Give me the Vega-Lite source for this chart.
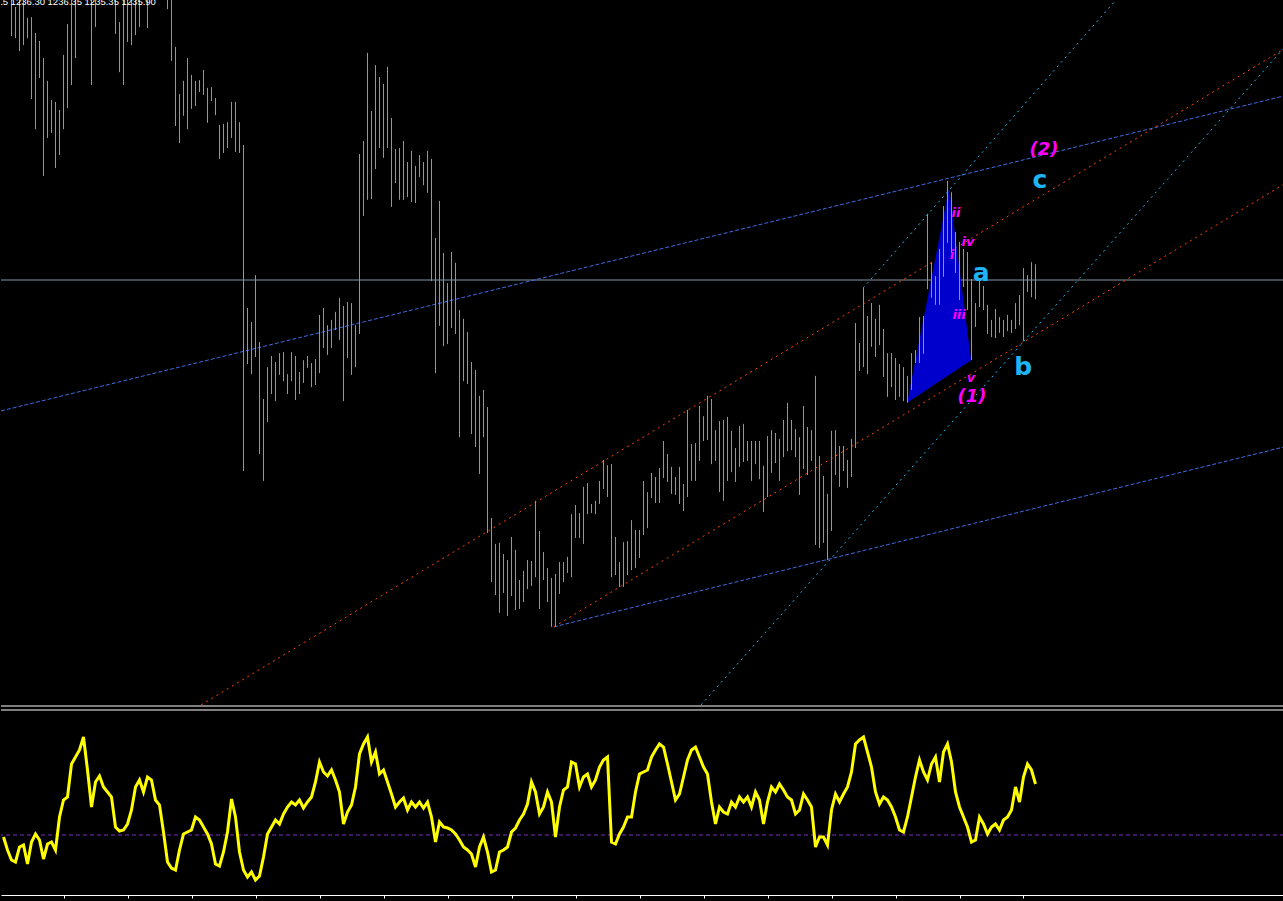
{
"$schema":"https://vega.github.io/schema/vega-lite/v6.json",
"background":"#000000",
"padding":0,
"spacing":2,
"config":{"view":{"stroke":null},"font":"Liberation Sans"},
"datasets":{
"bars":[
{"i":0,"high":1245.2,"low":1244.3,"osc":29},
{"i":1,"high":1245.0,"low":1244.1,"osc":22.5},
{"i":2,"high":1244.1,"low":1242.87,"osc":17.5},
{"i":3,"high":1243.7,"low":1242.81,"osc":16.5},
{"i":4,"high":1244.2,"low":1242.44,"osc":24},
{"i":5,"high":1244.1,"low":1242.61,"osc":25},
{"i":6,"high":1243.39,"low":1242.81,"osc":15.5},
{"i":7,"high":1243.41,"low":1241.07,"osc":26.5},
{"i":8,"high":1242.96,"low":1240.21,"osc":30.5},
{"i":9,"high":1242.73,"low":1241.67,"osc":27.5},
{"i":10,"high":1242.24,"low":1238.87,"osc":18},
{"i":11,"high":1241.59,"low":1239.96,"osc":25.5},
{"i":12,"high":1241.04,"low":1240.1,"osc":26.5},
{"i":13,"high":1240.99,"low":1239.1,"osc":22.5},
{"i":14,"high":1240.76,"low":1239.47,"osc":39},
{"i":15,"high":1242.33,"low":1240.21,"osc":47.5},
{"i":16,"high":1243.21,"low":1240.81,"osc":49},
{"i":17,"high":1244.3,"low":1241.47,"osc":65.5},
{"i":18,"high":1244.5,"low":1242.24,"osc":69},
{"i":19,"high":1245.0,"low":1244.0,"osc":72.5},
{"i":20,"high":1245.3,"low":1244.2,"osc":79},
{"i":21,"high":1245.1,"low":1244.1,"osc":62.5},
{"i":22,"high":1244.6,"low":1241.47,"osc":44},
{"i":23,"high":1244.8,"low":1243.13,"osc":56.5},
{"i":24,"high":1245.4,"low":1244.3,"osc":59.5},
{"i":25,"high":1245.6,"low":1244.5,"osc":54},
{"i":26,"high":1245.5,"low":1244.4,"osc":51.5},
{"i":27,"high":1245.2,"low":1244.1,"osc":49},
{"i":28,"high":1244.9,"low":1242.93,"osc":34},
{"i":29,"high":1243.27,"low":1241.84,"osc":32},
{"i":30,"high":1244.4,"low":1241.47,"osc":32.5},
{"i":31,"high":1244.8,"low":1242.7,"osc":35.5},
{"i":32,"high":1244.9,"low":1242.61,"osc":42.5},
{"i":33,"high":1245.0,"low":1242.9,"osc":54},
{"i":34,"high":1244.9,"low":1243.13,"osc":57.5},
{"i":35,"high":1245.3,"low":1244.2,"osc":51.5},
{"i":36,"high":1244.7,"low":1243.1,"osc":59},
{"i":37,"high":1245.2,"low":1244.3,"osc":57.5},
{"i":38,"high":1245.5,"low":1244.4,"osc":47.5},
{"i":39,"high":1245.4,"low":1244.2,"osc":45},
{"i":40,"high":1245.0,"low":1244.1,"osc":31.5},
{"i":41,"high":1244.8,"low":1243.64,"osc":16.5},
{"i":42,"high":1244.3,"low":1242.16,"osc":13.5},
{"i":43,"high":1242.56,"low":1240.3,"osc":12.5},
{"i":44,"high":1241.21,"low":1239.81,"osc":22.5},
{"i":45,"high":1241.59,"low":1240.59,"osc":30.5},
{"i":46,"high":1242.24,"low":1240.21,"osc":31.5},
{"i":47,"high":1241.76,"low":1240.79,"osc":32.5},
{"i":48,"high":1241.59,"low":1240.87,"osc":39},
{"i":49,"high":1241.61,"low":1241.27,"osc":37.5},
{"i":50,"high":1241.9,"low":1241.19,"osc":34},
{"i":51,"high":1241.39,"low":1240.39,"osc":30.5},
{"i":52,"high":1241.41,"low":1241.01,"osc":25.5},
{"i":53,"high":1241.1,"low":1240.61,"osc":15.5},
{"i":54,"high":1240.33,"low":1239.36,"osc":14.5},
{"i":55,"high":1240.36,"low":1239.53,"osc":21.5},
{"i":56,"high":1240.41,"low":1239.67,"osc":31.5},
{"i":57,"high":1240.99,"low":1239.96,"osc":48},
{"i":58,"high":1240.99,"low":1239.56,"osc":39},
{"i":59,"high":1240.41,"low":1239.53,"osc":21.5},
{"i":60,"high":1239.76,"low":1230.44,"osc":12.5},
{"i":61,"high":1235.1,"low":1233.5,"osc":9},
{"i":62,"high":1234.7,"low":1233.21,"osc":11.5},
{"i":63,"high":1236.04,"low":1233.7,"osc":7.5},
{"i":64,"high":1234.13,"low":1230.93,"osc":9.5},
{"i":65,"high":1232.5,"low":1230.16,"osc":19},
{"i":66,"high":1233.41,"low":1231.84,"osc":30.5},
{"i":67,"high":1233.73,"low":1232.64,"osc":34},
{"i":68,"high":1233.56,"low":1232.44,"osc":37.5},
{"i":69,"high":1233.81,"low":1233.19,"osc":35.5},
{"i":70,"high":1233.84,"low":1233.01,"osc":40.5},
{"i":71,"high":1233.21,"low":1232.64,"osc":44},
{"i":72,"high":1233.84,"low":1233.01,"osc":46.5},
{"i":73,"high":1233.73,"low":1232.47,"osc":45},
{"i":74,"high":1233.27,"low":1232.64,"osc":47.5},
{"i":75,"high":1233.61,"low":1232.96,"osc":43.5},
{"i":76,"high":1233.73,"low":1233.39,"osc":46.5},
{"i":77,"high":1233.53,"low":1232.84,"osc":49},
{"i":78,"high":1233.64,"low":1232.9,"osc":56.5},
{"i":79,"high":1234.9,"low":1233.24,"osc":66.5},
{"i":80,"high":1235.1,"low":1233.96,"osc":61.5},
{"i":81,"high":1234.61,"low":1233.76,"osc":59.5},
{"i":82,"high":1234.76,"low":1233.96,"osc":62.5},
{"i":83,"high":1234.99,"low":1234.47,"osc":57.5},
{"i":84,"high":1235.39,"low":1234.19,"osc":51.5},
{"i":85,"high":1235.16,"low":1232.44,"osc":35.5},
{"i":86,"high":1235.27,"low":1233.67,"osc":41.5},
{"i":87,"high":1235.24,"low":1233.19,"osc":45},
{"i":88,"high":1234.61,"low":1233.41,"osc":54},
{"i":89,"high":1239.5,"low":1234.36,"osc":70.5},
{"i":90,"high":1239.87,"low":1237.73,"osc":75.5},
{"i":91,"high":1242.39,"low":1238.19,"osc":79},
{"i":92,"high":1240.73,"low":1238.21,"osc":66.5},
{"i":93,"high":1242.04,"low":1239.07,"osc":71.5},
{"i":94,"high":1241.7,"low":1239.67,"osc":60.5},
{"i":95,"high":1241.5,"low":1239.39,"osc":62.5},
{"i":96,"high":1241.99,"low":1239.67,"osc":56.5},
{"i":97,"high":1240.53,"low":1237.99,"osc":50.5},
{"i":98,"high":1239.64,"low":1238.67,"osc":44},
{"i":99,"high":1239.67,"low":1238.19,"osc":46.5},
{"i":100,"high":1239.87,"low":1238.19,"osc":48.5},
{"i":101,"high":1239.27,"low":1238.27,"osc":42.5},
{"i":102,"high":1239.59,"low":1238.13,"osc":46.5},
{"i":103,"high":1239.16,"low":1238.1,"osc":44},
{"i":104,"high":1239.47,"low":1238.84,"osc":46.5},
{"i":105,"high":1239.27,"low":1238.61,"osc":43.5},
{"i":106,"high":1239.59,"low":1238.39,"osc":46.5},
{"i":107,"high":1239.36,"low":1235.87,"osc":39},
{"i":108,"high":1237.1,"low":1233.24,"osc":26.5},
{"i":109,"high":1238.16,"low":1234.59,"osc":36.5},
{"i":110,"high":1236.67,"low":1234.01,"osc":34},
{"i":111,"high":1235.81,"low":1234.07,"osc":33.5},
{"i":112,"high":1236.7,"low":1234.53,"osc":32.5},
{"i":113,"high":1236.39,"low":1234.36,"osc":30.5},
{"i":114,"high":1235.04,"low":1231.41,"osc":27.5},
{"i":115,"high":1234.79,"low":1233.01,"osc":24},
{"i":116,"high":1234.41,"low":1232.93,"osc":22.5},
{"i":117,"high":1233.56,"low":1231.5,"osc":20.5},
{"i":118,"high":1233.33,"low":1231.13,"osc":14},
{"i":119,"high":1232.59,"low":1230.36,"osc":24},
{"i":120,"high":1232.76,"low":1231.41,"osc":29},
{"i":121,"high":1232.27,"low":1228.67,"osc":21.5},
{"i":122,"high":1229.1,"low":1227.27,"osc":11.5},
{"i":123,"high":1228.36,"low":1226.9,"osc":12.5},
{"i":124,"high":1228.39,"low":1226.39,"osc":21.5},
{"i":125,"high":1228.07,"low":1226.96,"osc":22.5},
{"i":126,"high":1227.9,"low":1226.3,"osc":24},
{"i":127,"high":1228.56,"low":1226.87,"osc":31.5},
{"i":128,"high":1228.19,"low":1226.47,"osc":33.5},
{"i":129,"high":1227.33,"low":1226.5,"osc":37.5},
{"i":130,"high":1227.59,"low":1226.7,"osc":40.5},
{"i":131,"high":1227.9,"low":1227.07,"osc":45.5},
{"i":132,"high":1227.87,"low":1227.16,"osc":56.5},
{"i":133,"high":1229.59,"low":1227.41,"osc":51.5},
{"i":134,"high":1228.73,"low":1226.5,"osc":40.5},
{"i":135,"high":1228.13,"low":1227.33,"osc":44},
{"i":136,"high":1227.67,"low":1226.7,"osc":51.5},
{"i":137,"high":1227.39,"low":1225.99,"osc":46.5},
{"i":138,"high":1227.5,"low":1225.99,"osc":29},
{"i":139,"high":1227.84,"low":1226.93,"osc":44},
{"i":140,"high":1227.84,"low":1227.27,"osc":52.5},
{"i":141,"high":1227.99,"low":1227.53,"osc":54},
{"i":142,"high":1229.21,"low":1227.41,"osc":66.5},
{"i":143,"high":1229.47,"low":1228.53,"osc":65.5},
{"i":144,"high":1229.24,"low":1228.53,"osc":54},
{"i":145,"high":1229.99,"low":1228.36,"osc":59},
{"i":146,"high":1230.1,"low":1229.21,"osc":60.5},
{"i":147,"high":1229.5,"low":1229.24,"osc":54},
{"i":148,"high":1229.59,"low":1229.21,"osc":57.5},
{"i":149,"high":1230.16,"low":1229.5,"osc":64},
{"i":150,"high":1230.76,"low":1229.93,"osc":67.5},
{"i":151,"high":1230.61,"low":1229.7,"osc":69},
{"i":152,"high":1230.64,"low":1227.41,"osc":26.5},
{"i":153,"high":1228.56,"low":1227.47,"osc":25.5},
{"i":154,"high":1227.84,"low":1227.13,"osc":30.5},
{"i":155,"high":1228.41,"low":1227.13,"osc":34},
{"i":156,"high":1228.44,"low":1227.47,"osc":39},
{"i":157,"high":1229.04,"low":1227.61,"osc":39},
{"i":158,"high":1228.76,"low":1227.67,"osc":51.5},
{"i":159,"high":1228.76,"low":1227.96,"osc":60.5},
{"i":160,"high":1230.16,"low":1228.61,"osc":61.5},
{"i":161,"high":1229.84,"low":1228.81,"osc":62.5},
{"i":162,"high":1230.39,"low":1229.67,"osc":69},
{"i":163,"high":1230.27,"low":1229.53,"osc":72.5},
{"i":164,"high":1230.53,"low":1229.53,"osc":75.5},
{"i":165,"high":1231.3,"low":1230.24,"osc":74},
{"i":166,"high":1230.93,"low":1230.13,"osc":65.5},
{"i":167,"high":1230.56,"low":1229.79,"osc":56.5},
{"i":168,"high":1230.27,"low":1229.76,"osc":47.5},
{"i":169,"high":1230.56,"low":1229.5,"osc":50.5},
{"i":170,"high":1230.07,"low":1229.3,"osc":59},
{"i":171,"high":1232.19,"low":1229.7,"osc":67.5},
{"i":172,"high":1231.21,"low":1230.16,"osc":72.5},
{"i":173,"high":1231.24,"low":1230.16,"osc":74},
{"i":174,"high":1232.3,"low":1230.73,"osc":69},
{"i":175,"high":1232.01,"low":1231.3,"osc":64},
{"i":176,"high":1232.59,"low":1231.33,"osc":60.5},
{"i":177,"high":1232.5,"low":1230.64,"osc":46.5},
{"i":178,"high":1231.61,"low":1230.73,"osc":35.5},
{"i":179,"high":1231.87,"low":1229.84,"osc":44},
{"i":180,"high":1231.9,"low":1229.59,"osc":41.5},
{"i":181,"high":1231.99,"low":1230.16,"osc":40.5},
{"i":182,"high":1231.59,"low":1230.41,"osc":46.5},
{"i":183,"high":1231.1,"low":1230.13,"osc":44},
{"i":184,"high":1231.73,"low":1230.56,"osc":49},
{"i":185,"high":1231.79,"low":1230.7,"osc":46.5},
{"i":186,"high":1231.3,"low":1230.73,"osc":49},
{"i":187,"high":1231.3,"low":1230.16,"osc":44},
{"i":188,"high":1231.3,"low":1230.64,"osc":51.5},
{"i":189,"high":1231.3,"low":1230.21,"osc":47.5},
{"i":190,"high":1230.59,"low":1229.27,"osc":35.5},
{"i":191,"high":1231.44,"low":1229.7,"osc":46.5},
{"i":192,"high":1231.61,"low":1230.39,"osc":54},
{"i":193,"high":1231.53,"low":1230.67,"osc":51.5},
{"i":194,"high":1231.36,"low":1230.16,"osc":55.5},
{"i":195,"high":1231.9,"low":1230.84,"osc":52.5},
{"i":196,"high":1232.39,"low":1231.01,"osc":49},
{"i":197,"high":1231.9,"low":1231.04,"osc":47.5},
{"i":198,"high":1231.64,"low":1230.84,"osc":40.5},
{"i":199,"high":1231.41,"low":1229.76,"osc":42.5},
{"i":200,"high":1232.3,"low":1230.5,"osc":50.5},
{"i":201,"high":1231.7,"low":1230.33,"osc":47.5},
{"i":202,"high":1231.61,"low":1230.73,"osc":44},
{"i":203,"high":1233.16,"low":1228.33,"osc":24},
{"i":204,"high":1230.87,"low":1228.24,"osc":29},
{"i":205,"high":1230.3,"low":1228.39,"osc":29},
{"i":206,"high":1229.79,"low":1227.9,"osc":25},
{"i":207,"high":1231.59,"low":1228.73,"osc":42.5},
{"i":208,"high":1231.61,"low":1230.33,"osc":50.5},
{"i":209,"high":1231.16,"low":1229.99,"osc":46.5},
{"i":210,"high":1231.16,"low":1230.44,"osc":50.5},
{"i":211,"high":1230.76,"low":1229.96,"osc":54},
{"i":212,"high":1231.36,"low":1230.27,"osc":61.5},
{"i":213,"high":1234.67,"low":1231.1,"osc":75.5},
{"i":214,"high":1234.1,"low":1233.3,"osc":77.5},
{"i":215,"high":1235.67,"low":1233.41,"osc":79},
{"i":216,"high":1234.87,"low":1233.21,"osc":71.5},
{"i":217,"high":1235.24,"low":1233.99,"osc":64},
{"i":218,"high":1234.79,"low":1233.7,"osc":51.5},
{"i":219,"high":1235.19,"low":1234.04,"osc":45.5},
{"i":220,"high":1234.5,"low":1233.13,"osc":49},
{"i":221,"high":1233.81,"low":1232.56,"osc":47.5},
{"i":222,"high":1233.81,"low":1232.84,"osc":44},
{"i":223,"high":1233.67,"low":1232.47,"osc":39},
{"i":224,"high":1233.5,"low":1232.56,"osc":32.5},
{"i":225,"high":1233.41,"low":1232.44,"osc":31.5},
{"i":226,"high":1233.16,"low":1232.39,"osc":39},
{"i":227,"high":1233.81,"low":1232.76,"osc":49},
{"i":228,"high":1233.9,"low":1233.53,"osc":59},
{"i":229,"high":1234.84,"low":1233.53,"osc":67.5},
{"i":230,"high":1234.87,"low":1233.79,"osc":61.5},
{"i":231,"high":1237.79,"low":1235.64,"osc":57.5},
{"i":232,"high":1236.41,"low":1235.39,"osc":65.5},
{"i":233,"high":1236.01,"low":1235.19,"osc":69},
{"i":234,"high":1236.79,"low":1235.19,"osc":56.5},
{"i":235,"high":1238.01,"low":1235.99,"osc":71.5},
{"i":236,"high":1238.73,"low":1236.96,"osc":75.5},
{"i":237,"high":1238.41,"low":1236.67,"osc":66.5},
{"i":238,"high":1237.27,"low":1236.1,"osc":51.5},
{"i":239,"high":1236.99,"low":1235.33,"osc":44},
{"i":240,"high":1236.79,"low":1235.7,"osc":39},
{"i":241,"high":1236.7,"low":1235.04,"osc":34},
{"i":242,"high":1235.93,"low":1233.61,"osc":26.5},
{"i":243,"high":1235.24,"low":1234.56,"osc":27.5},
{"i":244,"high":1235.93,"low":1235.13,"osc":39},
{"i":245,"high":1235.73,"low":1235.04,"osc":35.5},
{"i":246,"high":1235.19,"low":1234.36,"osc":30.5},
{"i":247,"high":1234.76,"low":1234.27,"osc":34},
{"i":248,"high":1235.07,"low":1234.24,"osc":35.5},
{"i":249,"high":1234.84,"low":1234.39,"osc":32.5},
{"i":250,"high":1234.76,"low":1234.27,"osc":37.5},
{"i":251,"high":1234.9,"low":1234.44,"osc":39},
{"i":252,"high":1234.76,"low":1234.39,"osc":42.5},
{"i":253,"high":1235.24,"low":1234.5,"osc":54},
{"i":254,"high":1235.47,"low":1234.61,"osc":46.5},
{"i":255,"high":1236.24,"low":1234.16,"osc":59},
{"i":256,"high":1236.04,"low":1235.56,"osc":65.5},
{"i":257,"high":1236.41,"low":1235.41,"osc":62.5},
{"i":258,"high":1236.35,"low":1235.35,"osc":55.5}
],
"lines":[
{"id":"b1","kind":"blue","i":-0.625,"p":1232.16},
{"id":"b1","kind":"blue","i":320.125,"p":1241.16},
{"id":"b2","kind":"blue","i":137.6,"p":1225.99},
{"id":"b2","kind":"blue","i":320.125,"p":1231.13},
{"id":"r1","kind":"red","i":49.4,"p":1223.76},
{"id":"r1","kind":"red","i":320.125,"p":1242.5},
{"id":"r2","kind":"red","i":137.6,"p":1225.99},
{"id":"r2","kind":"red","i":320.125,"p":1238.64},
{"id":"c1","kind":"cyan","i":214.9,"p":1235.67},
{"id":"c1","kind":"cyan","i":278.1,"p":1243.9},
{"id":"c2","kind":"cyan","i":174.4,"p":1223.76},
{"id":"c2","kind":"cyan","i":320.125,"p":1242.53}
],
"tri":[
{"i":225.9,"p":1232.39,"p2":1232.39},
{"i":236.4,"p":1238.53,"p2":1233.19},
{"i":241.9,"p":1233.61,"p2":1233.61}
],
"labels":[
{"label":"(2)","kind":"wave","i":260.1,"p":1239.61},
{"label":"(1)","kind":"wave","i":242.1,"p":1232.56},
{"label":"c","kind":"abc","i":259.1,"p":1238.76},
{"label":"a","kind":"abc","i":244.4,"p":1236.1},
{"label":"b","kind":"abc","i":254.9,"p":1233.41},
{"label":"ii","kind":"sub","i":238.1,"p":1237.81},
{"label":"iv","kind":"sub","i":241.1,"p":1236.99},
{"label":"i","kind":"sub","i":237.1,"p":1236.61},
{"label":"iii","kind":"sub","i":238.9,"p":1234.9},
{"label":"v","kind":"sub","i":241.9,"p":1233.1}
]
},
"vconcat":[
{
"width":1283,"height":706,
"layer":[
{"data":{"values":[{"p":1235.9}]},"mark":{"type":"rule","color":"#8796a5","strokeWidth":1},
 "encoding":{"y":{"field":"p","type":"quantitative","scale":{"domain":[1223.729,1243.9],"nice":false,"zero":false},"axis":null}}},
{"data":{"values":[{"p":1223.729}]},"mark":{"type":"rule","color":"#ffffff","strokeWidth":1},
 "encoding":{"y":{"field":"p","type":"quantitative","scale":{"domain":[1223.729,1243.9],"nice":false,"zero":false},"axis":null}}},
{"data":{"name":"lines"},"transform":[{"filter":"datum.kind=='blue'"}],
 "mark":{"type":"line","color":"#4169e1","strokeWidth":1,"strokeDash":[4,2],"clip":true},
 "encoding":{"x":{"field":"i","type":"quantitative","scale":{"domain":[-0.625,320.125],"nice":false,"zero":false},"axis":null},
  "y":{"field":"p","type":"quantitative","scale":{"domain":[1223.729,1243.9],"nice":false,"zero":false},"axis":null},
  "detail":{"field":"id","type":"nominal"}}},
{"data":{"name":"lines"},"transform":[{"filter":"datum.kind=='red'"}],
 "mark":{"type":"line","color":"#ff4500","strokeWidth":1,"strokeDash":[2,4],"clip":true},
 "encoding":{"x":{"field":"i","type":"quantitative","scale":{"domain":[-0.625,320.125],"nice":false,"zero":false},"axis":null},
  "y":{"field":"p","type":"quantitative","scale":{"domain":[1223.729,1243.9],"nice":false,"zero":false},"axis":null},
  "detail":{"field":"id","type":"nominal"}}},
{"data":{"name":"lines"},"transform":[{"filter":"datum.kind=='cyan'"}],
 "mark":{"type":"line","color":"#1eb4f5","strokeWidth":1,"strokeDash":[2,4],"clip":true},
 "encoding":{"x":{"field":"i","type":"quantitative","scale":{"domain":[-0.625,320.125],"nice":false,"zero":false},"axis":null},
  "y":{"field":"p","type":"quantitative","scale":{"domain":[1223.729,1243.9],"nice":false,"zero":false},"axis":null},
  "detail":{"field":"id","type":"nominal"}}},
{"data":{"name":"tri"},
 "mark":{"type":"area","color":"#0000cd","opacity":1,"interpolate":"linear","clip":true},
 "encoding":{"x":{"field":"i","type":"quantitative","scale":{"domain":[-0.625,320.125],"nice":false,"zero":false},"axis":null},
  "y":{"field":"p","type":"quantitative","scale":{"domain":[1223.729,1243.9],"nice":false,"zero":false},"axis":null},
  "y2":{"field":"p2"}}},
{"data":{"name":"bars"},
 "mark":{"type":"rule","color":"#00ff00","strokeWidth":1,"clip":true},
 "encoding":{"x":{"field":"i","type":"quantitative","scale":{"domain":[-0.625,320.125],"nice":false,"zero":false},"axis":null},
  "y":{"field":"high","type":"quantitative","scale":{"domain":[1223.729,1243.9],"nice":false,"zero":false},"axis":null},
  "y2":{"field":"low"}}},
{"data":{"name":"labels"},"transform":[{"filter":"datum.kind=='wave'"}],
 "mark":{"type":"text","color":"#ff00ff","font":"DejaVu Sans","fontSize":18,"fontWeight":"bold","fontStyle":"italic","align":"center","baseline":"middle","clip":true},
 "encoding":{"x":{"field":"i","type":"quantitative","scale":{"domain":[-0.625,320.125],"nice":false,"zero":false},"axis":null},
  "y":{"field":"p","type":"quantitative","scale":{"domain":[1223.729,1243.9],"nice":false,"zero":false},"axis":null},
  "text":{"field":"label"}}},
{"data":{"name":"labels"},"transform":[{"filter":"datum.kind=='abc'"}],
 "mark":{"type":"text","color":"#1eb4f5","font":"DejaVu Sans","fontSize":25,"fontWeight":"bold","align":"center","baseline":"middle","clip":true},
 "encoding":{"x":{"field":"i","type":"quantitative","scale":{"domain":[-0.625,320.125],"nice":false,"zero":false},"axis":null},
  "y":{"field":"p","type":"quantitative","scale":{"domain":[1223.729,1243.9],"nice":false,"zero":false},"axis":null},
  "text":{"field":"label"}}},
{"data":{"name":"labels"},"transform":[{"filter":"datum.kind=='sub'"}],
 "mark":{"type":"text","color":"#ff00ff","font":"DejaVu Sans","fontSize":13,"fontWeight":"bold","fontStyle":"italic","align":"center","baseline":"middle","clip":true},
 "encoding":{"x":{"field":"i","type":"quantitative","scale":{"domain":[-0.625,320.125],"nice":false,"zero":false},"axis":null},
  "y":{"field":"p","type":"quantitative","scale":{"domain":[1223.729,1243.9],"nice":false,"zero":false},"axis":null},
  "text":{"field":"label"}}},
{"data":{"values":[{"i":38.1,"p":1243.76,"t":"XAUUSD,M15  1236.30 1236.35 1235.35 1235.90"}]},
 "mark":{"type":"text","color":"#ffffff","font":"Liberation Sans","fontSize":9.5,"align":"right","baseline":"alphabetic","clip":true},
 "encoding":{"x":{"field":"i","type":"quantitative","scale":{"domain":[-0.625,320.125],"nice":false,"zero":false},"axis":null},
  "y":{"field":"p","type":"quantitative","scale":{"domain":[1223.729,1243.9],"nice":false,"zero":false},"axis":null},
  "text":{"field":"t"}}}
]
},
{
"width":1283,"height":185,
"layer":[
{"data":{"values":[{"v":30}]},"mark":{"type":"rule","color":"#7b2fbe","strokeWidth":1,"strokeDash":[4,3]},
 "encoding":{"y":{"field":"v","type":"quantitative","scale":{"domain":[0,92.5],"nice":false,"zero":false},"axis":null}}},
{"data":{"values":[{"v":92.5}]},"mark":{"type":"rule","color":"#ffffff","strokeWidth":1},
 "encoding":{"y":{"field":"v","type":"quantitative","scale":{"domain":[0,92.5],"nice":false,"zero":false},"axis":null}}},
{"data":{"name":"bars"},
 "mark":{"type":"line","color":"#ffff00","strokeWidth":3,"interpolate":"linear","clip":true},
 "encoding":{"x":{"field":"i","type":"quantitative","scale":{"domain":[-0.625,320.125],"nice":false,"zero":false},
   "axis":{"values":[-1,15,31,47,63,79,95,111,127,143,159,175,191,207,223,239,255],
    "labelExpr":"['13 Aug 11:00','13 Aug 15:00','13 Aug 19:00','13 Aug 23:00','14 Aug 04:00','14 Aug 08:00','14 Aug 12:00','14 Aug 16:00','14 Aug 20:00','15 Aug 01:00','15 Aug 05:00','15 Aug 09:00','15 Aug 13:00','15 Aug 17:00','15 Aug 21:00','18 Aug 02:55','18 Aug 07:55'][round((datum.value+1)/16)]",
    "domainColor":"#ffffff","tickColor":"#ffffff","labelColor":"#ffffff","tickSize":3,"labelAlign":"left","labelBaseline":"top","labelPadding":2,"labelDx":2,
    "labelFont":"Liberation Sans","labelFontSize":9,"grid":false,"labelOverlap":false,"labelBound":false,"labelFlush":false,"title":null}},
  "y":{"field":"osc","type":"quantitative","scale":{"domain":[0,92.5],"nice":false,"zero":false},"axis":null}}}
]
}
]
}
